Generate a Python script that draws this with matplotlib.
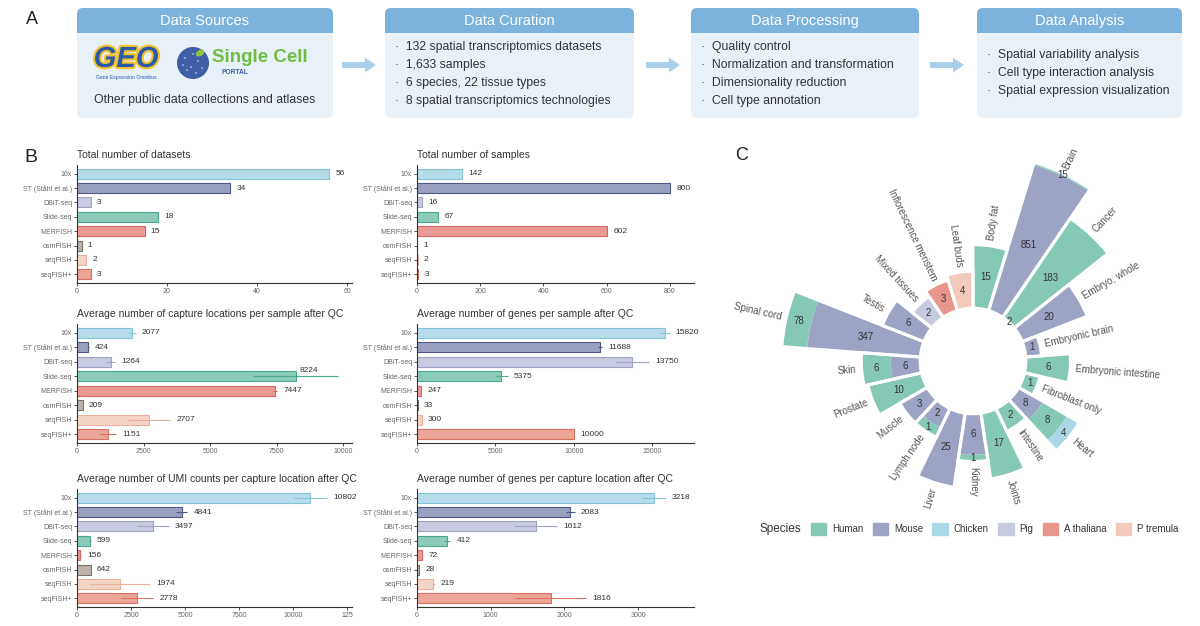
import matplotlib
matplotlib.use("Agg")
import matplotlib.pyplot as plt
import matplotlib.patches as mpatches
import matplotlib.patheffects as pe
import numpy as np

plt.rcParams["font.family"] = ["Liberation Sans", "DejaVu Sans"]

W, H = 1200, 626

# ---------------------------------------------------------------------------
# Panel B data (per technology)
# ---------------------------------------------------------------------------
TECHS = ["10x", "ST (Ståhl et al.)", "DBiT-seq", "Slide-seq", "MERFISH",
         "osmFISH", "seqFISH", "seqFISH+"]
TECH_FILL = ["#b7dce9", "#9aa1c0", "#c8cbe0", "#8ccbb9", "#ea9a96",
             "#bcb3aa", "#f5d4c8", "#eba698"]
TECH_EDGE = ["#86c2d8", "#4e5784", "#9ea4c5", "#4aa88e", "#d86561",
             "#7e7368", "#ebb09c", "#d8735f"]

N_DATASETS = [56, 34, 3, 18, 15, 1, 2, 3]
N_SAMPLES = [142, 800, 16, 67, 602, 1, 2, 3]
LOCS_PER_SAMPLE = [2077, 424, 1264, 8224, 7447, 209, 2707, 1151]
LOCS_PER_SAMPLE_SE = [130, 20, 170, 1600, 70, 0, 800, 330]
GENES_PER_SAMPLE = [15820, 11688, 13750, 5375, 247, 33, 300, 10000]
GENES_PER_SAMPLE_SE = [300, 130, 1050, 420, 0, 0, 0, 0]
UMI_PER_LOC = [10802, 4841, 3497, 599, 156, 642, 1974, 2778]
UMI_PER_LOC_SE = [770, 270, 740, 40, 20, 0, 1420, 750]
GENES_PER_LOC = [3218, 2083, 1612, 412, 72, 28, 219, 1816]
GENES_PER_LOC_SE = [160, 55, 290, 40, 0, 0, 20, 480]

# ---------------------------------------------------------------------------
# Panel C data (samples per tissue and species)
# ---------------------------------------------------------------------------
TISSUES = ["Body fat", "Brain", "Cancer", "Embryo, whole", "Embryonic brain",
           "Embryonic intestine", "Fibroblast only", "Heart", "Intestine",
           "Joints", "Kidney", "Liver", "Lymph node", "Muscle", "Prostate",
           "Skin", "Spinal cord", "Testis", "Mixed tissues",
           "Inflorescence meristem", "Leaf buds"]
SPECIES = ["Human", "Mouse", "Chicken", "Pig", "A thaliana", "P tremula"]
SPECIES_COLORS = ["#86c8b6", "#9ca3c4", "#a9d8e5", "#c6cade", "#e8968c", "#f3c9bc"]
HUMAN = [15, 15, 183, 0, 0, 6, 1, 8, 2, 17, 1, 0, 1, 0, 10, 6, 78, 0, 0, 0, 0]
MOUSE = [0, 851, 2, 20, 1, 0, 0, 8, 0, 0, 6, 25, 2, 3, 0, 6, 347, 6, 0, 0, 0]
CHICKEN = [0, 0, 0, 0, 0, 0, 0, 4, 0, 0, 0, 0, 0, 0, 0, 0, 0, 0, 0, 0, 0]
PIG = [0, 0, 0, 0, 0, 0, 0, 0, 0, 0, 0, 0, 0, 0, 0, 0, 0, 0, 2, 0, 0]
ATHAL = [0, 0, 0, 0, 0, 0, 0, 0, 0, 0, 0, 0, 0, 0, 0, 0, 0, 0, 0, 3, 0]
PTREM = [0, 0, 0, 0, 0, 0, 0, 0, 0, 0, 0, 0, 0, 0, 0, 0, 0, 0, 0, 0, 4]
STACK_ORDER = [1, 0, 2, 3, 4, 5]   # inner -> outer

# ---------------------------------------------------------------------------
# Panel A text
# ---------------------------------------------------------------------------
CURATION = ["132 spatial transcriptomics datasets", "1,633 samples",
            "6 species, 22 tissue types", "8 spatial transcriptomics technologies"]
PROCESSING = ["Quality control", "Normalization and transformation",
              "Dimensionality reduction", "Cell type annotation"]
ANALYSIS = ["Spatial variability analysis", "Cell type interaction analysis",
            "Spatial expression visualization"]

HEAD = "#7cb3dc"
BODY = "#e8f0f8"
ARROW = "#a9cfea"


def frac_rect(x0, y0, x1, y1):
    return [x0 / W, 1 - y1 / H, (x1 - x0) / W, (y1 - y0) / H]


fig = plt.figure(figsize=(12, 6.26), dpi=100)

bg = fig.add_axes([0, 0, 1, 1])
bg.set_xlim(0, W)
bg.set_ylim(H, 0)
bg.axis("off")


def flow_box(x0, x1, title, y0=8, y1=118, hb=33):
    bg.add_patch(mpatches.FancyBboxPatch((x0, y0), x1 - x0, y1 - y0,
                 boxstyle="round,pad=0,rounding_size=6", fc=BODY, ec="none"))
    bg.add_patch(mpatches.FancyBboxPatch((x0, y0), x1 - x0, hb - y0,
                 boxstyle="round,pad=0,rounding_size=6", fc=HEAD, ec="none"))
    bg.add_patch(mpatches.Rectangle((x0, y0 + 12), x1 - x0, hb - y0 - 12,
                 fc=HEAD, ec="none"))
    bg.text((x0 + x1) / 2, (y0 + hb) / 2 + 0.5, title, ha="center", va="center",
            color="white", fontsize=10.5)


def bullets(x, ys, lines):
    for y, s in zip(ys, lines):
        bg.text(x, y, "·  " + s, ha="left", va="center", fontsize=8.8, color="#333333")


flow_box(77, 333, "Data Sources")
flow_box(385, 634, "Data Curation")
flow_box(691, 919, "Data Processing")
flow_box(977, 1182, "Data Analysis")
bullets(395, [47, 65, 83, 101], CURATION)
bullets(701, [47, 65, 83, 101], PROCESSING)
bullets(987, [55, 73, 91], ANALYSIS)

for xa in (342, 646, 930):
    bg.add_patch(mpatches.FancyArrow(xa, 65, 34, 0, width=6, head_width=15,
                 head_length=11, length_includes_head=True, fc=ARROW, ec="none"))

# logos (approximated)
bg.text(126, 59, "GEO", ha="center", va="center", fontsize=21, fontweight="bold",
        style="italic", color="#2b5aa6",
        path_effects=[pe.withStroke(linewidth=3, foreground="#f2c230")])
bg.text(126, 77, "Gene Expression Omnibus", ha="center", va="center",
        fontsize=3.6, color="#2b5aa6")
bg.add_patch(mpatches.Circle((193, 63), 16, fc="#3f5ea8", ec="none"))
for dx, dy in [(-8, -5), (-2, 4), (5, -2), (-6, 7), (3, 10), (9, 5), (-10, 2), (0, -9)]:
    bg.add_patch(mpatches.Circle((193 + dx, 63 + dy), 1.1, fc="#8ea4d6", ec="none"))
bg.add_patch(mpatches.Ellipse((200, 53), 9, 6, angle=-30, fc="#8cc63f", ec="none"))
bg.text(212, 58, "Single Cell", ha="left", va="center", fontsize=13.5,
        fontweight="bold", color="#6fbe44")
bg.text(221, 73, "PORTAL", ha="left", va="center", fontsize=4.8,
        fontweight="bold", color="#3f5ea8")
bg.text(205, 100, "Other public data collections and atlases", ha="center",
        va="center", fontsize=8.8, color="#333333")

fig.text(32 / W, 1 - 20 / H, "A", fontsize=13, ha="center", va="center", color="#222222")
fig.text(31 / W, 1 - 157 / H, "B", fontsize=14, ha="center", va="center", color="#222222")
fig.text(742 / W, 1 - 156 / H, "C", fontsize=13, ha="center", va="center", color="#222222")

# ---------------------------------------------------------------------------
# Panel B
# ---------------------------------------------------------------------------
def bar_panel(rect, title, values, errs, xmax, xticks, xticklabels=None):
    ax = fig.add_axes(frac_rect(*rect))
    y = np.arange(len(TECHS))
    ax.barh(y, values, height=0.7, color=TECH_FILL, edgecolor=TECH_EDGE, linewidth=0.8)
    if errs is None:
        errs = [0] * len(values)
    for i, (v, e) in enumerate(zip(values, errs)):
        if e > 0:
            ax.errorbar(v, y[i], xerr=e, color=TECH_EDGE[i], lw=0.8, capsize=0)
        end = v + e
        if end > 0.94 * xmax:
            ax.annotate(f"{v}", (v, y[i]), xytext=(3, 4), textcoords="offset points",
                        ha="left", va="center", fontsize=6, color="#333333")
        else:
            ax.annotate(f"{v}", (end, y[i]), xytext=(4.5, 0), textcoords="offset points",
                        ha="left", va="center", fontsize=6, color="#333333")
    ax.set_ylim(len(TECHS) - 0.4, -0.6)
    ax.set_xlim(0, xmax)
    ax.set_yticks(y)
    ax.set_yticklabels(TECHS)
    ax.set_xticks(xticks)
    if xticklabels is not None:
        ax.set_xticklabels(xticklabels)
    ax.tick_params(labelsize=5, colors="#333333", labelcolor="#666666", length=2, width=0.6, pad=1.5)
    for s in ("top", "right"):
        ax.spines[s].set_visible(False)
    for s in ("left", "bottom"):
        ax.spines[s].set_color("#333333")
        ax.spines[s].set_linewidth(0.8)
    ax.set_title(title, loc="left", fontsize=7.5, color="#333333", pad=5)
    return ax


bar_panel((77, 165, 352, 283), "Total number of datasets", N_DATASETS, None,
          61.1, [0, 20, 40, 60])
bar_panel((417, 165, 694, 283), "Total number of samples", N_SAMPLES, None,
          876, [0, 200, 400, 600, 800])
bar_panel((77, 324, 352, 443), "Average number of capture locations per sample after QC",
          LOCS_PER_SAMPLE, LOCS_PER_SAMPLE_SE, 10338, [0, 2500, 5000, 7500, 10000])
bar_panel((417, 324, 694, 443), "Average number of genes per sample after QC",
          GENES_PER_SAMPLE, GENES_PER_SAMPLE_SE, 17680, [0, 5000, 10000, 15000])
bar_panel((77, 489, 352, 607), "Average number of UMI counts per capture location after QC",
          UMI_PER_LOC, UMI_PER_LOC_SE, 12730, [0, 2500, 5000, 7500, 10000, 12500],
          ["0", "2500", "5000", "7500", "10000", "125"])
bar_panel((417, 489, 694, 607), "Average number of genes per capture location after QC",
          GENES_PER_LOC, GENES_PER_LOC_SE, 3760, [0, 1000, 2000, 3000])

# ---------------------------------------------------------------------------
# Panel C: circular stacked bars, bar length ~ log10(1 + total samples)
# ---------------------------------------------------------------------------
axc = fig.add_axes(frac_rect(765, 153, 1181, 569), projection="polar")
axc.set_theta_zero_location("N")
axc.set_theta_direction(-1)
n = len(TISSUES)
step = 2 * np.pi / n
theta = (np.arange(n) + 0.5) * step
counts = np.array([HUMAN, MOUSE, CHICKEN, PIG, ATHAL, PTREM], dtype=float)
total = counts.sum(axis=0)
length = np.log10(1 + total)
R0 = 1.0

cum = np.zeros(n)
for s in STACK_ORDER:
    c = counts[s]
    lo = R0 + length * cum / total
    cum = cum + c
    hi = R0 + length * cum / total
    m = c > 0
    axc.bar(theta[m], (hi - lo)[m], bottom=lo[m], width=step,
            color=SPECIES_COLORS[s], linewidth=0)
    for t, a, b, v in zip(theta[m], lo[m], hi[m], c[m]):
        axc.text(t, (a + b) / 2, f"{int(v)}", ha="center", va="center",
                 fontsize=7, color="#333333")
axc.bar(theta, length, bottom=R0, width=step, fill=False, edgecolor="white", linewidth=2.2)

for t, r, name in zip(theta, R0 + length, TISSUES):
    a = np.degrees(t)
    if a <= 180.01:
        rot, ha = 90 - a, "left"
    else:
        rot, ha = 270 - a, "right"
    axc.text(t, r + 0.1, name, rotation=rot, rotation_mode="anchor", ha=ha,
             va="center", fontsize=7, color="#555555")

axc.set_ylim(0, R0 + length.max())
axc.axis("off")

handles = [mpatches.Patch(color=c, label=s) for s, c in zip(SPECIES, SPECIES_COLORS)]
fig.text(760 / W, 1 - 529 / H, "Species", fontsize=8.5, ha="left", va="center", color="#333333")
fig.legend(handles=handles, ncol=6, loc="center left", bbox_to_anchor=(806 / W, 1 - 529 / H),
           frameon=False, fontsize=7, handlelength=1.6, handleheight=1.6,
           handletextpad=0.6, columnspacing=0.95, borderpad=0, labelcolor="#333333")

fig.savefig("out.png", dpi=100)
